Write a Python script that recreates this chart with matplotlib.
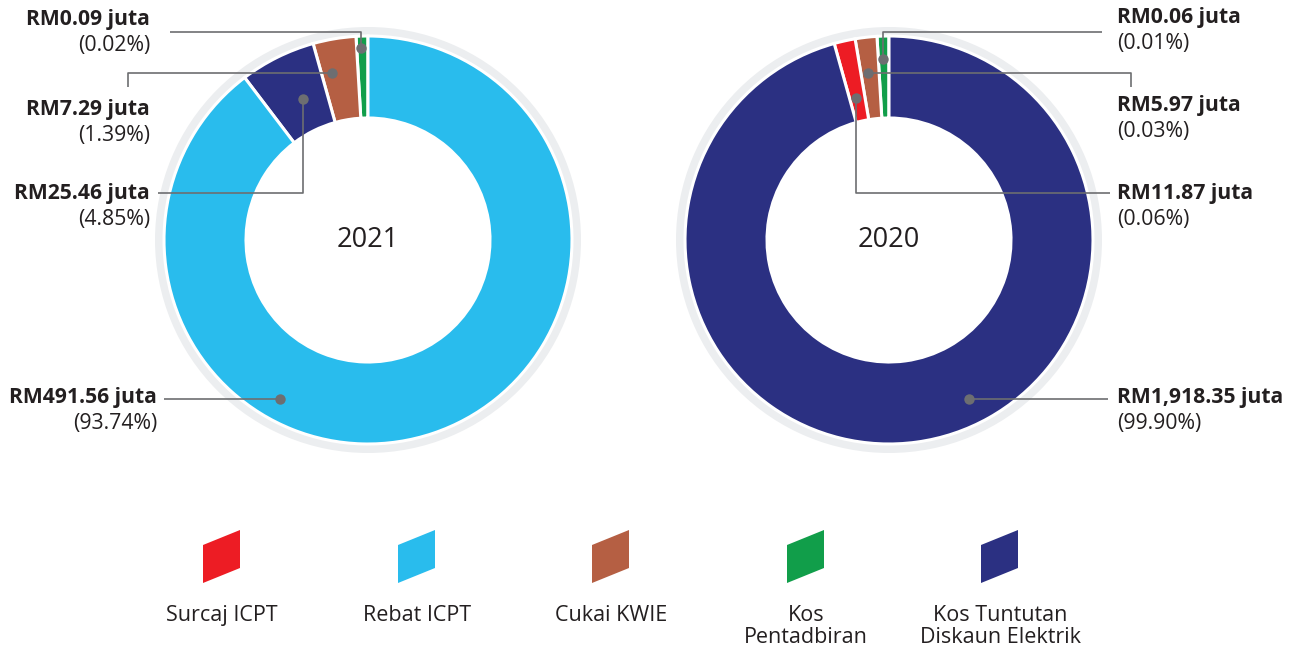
import matplotlib
matplotlib.use("Agg")
import matplotlib.pyplot as plt
from matplotlib.patches import Wedge, Polygon

W, H = 1291, 648

# ---- data ----
categories = ["Surcaj ICPT", "Rebat ICPT", "Cukai KWIE", "Kos\nPentadbiran", "Kos Tuntutan\nDiskaun Elektrik"]
colors = ["#ed1c24", "#29bced", "#b55f43", "#119e4a", "#2b3082"]

# slice shares as drawn in the picture (counter-clockwise from top)
y2021_cats = ["Kos\nPentadbiran", "Cukai KWIE", "Kos Tuntutan\nDiskaun Elektrik", "Rebat ICPT"]
y2021_vals = [0.94, 3.4, 6.0, 89.66]
y2020_cats = ["Kos\nPentadbiran", "Cukai KWIE", "Surcaj ICPT", "Kos Tuntutan\nDiskaun Elektrik"]
y2020_vals = [0.94, 1.72, 1.67, 95.67]

labels_2021_amt = ["RM0.09 juta", "RM7.29 juta", "RM25.46 juta", "RM491.56 juta"]
labels_2021_pct = ["(0.02%)", "(1.39%)", "(4.85%)", "(93.74%)"]
labels_2020_amt = ["RM0.06 juta", "RM5.97 juta", "RM11.87 juta", "RM1,918.35 juta"]
labels_2020_pct = ["(0.01%)", "(0.03%)", "(0.06%)", "(99.90%)"]

cmap = dict(zip(categories, colors))

TXT = "#231f20"
LINE = "#6d6e71"
FONT = ["Open Sans", "DejaVu Sans"]

fig = plt.figure(figsize=(W / 100, H / 100), dpi=100)
ax = fig.add_axes([0, 0, 1, 1])


def Y(y):
    return H - y


R_OUT, R_IN = 204, 122


def donut(cx, cy, cats, vals, year):
    ax.add_patch(Wedge((cx, Y(cy)), 213, 0, 360, width=14, facecolor="#eceef0", edgecolor="none", zorder=1))
    ax.pie(vals, colors=[cmap[c] for c in cats], center=(cx, Y(cy)), radius=R_OUT,
           startangle=90, counterclock=True,
           wedgeprops=dict(width=R_OUT - R_IN, edgecolor="white", linewidth=2.2))
    ax.text(cx, Y(cy), year, ha="center", va="center", fontsize=19.5, color=TXT, family=FONT)


donut(368, 240, y2021_cats, y2021_vals, "2021")
donut(889, 240, y2020_cats, y2020_vals, "2020")


def leader(points):
    xs = [p[0] for p in points]
    ys = [Y(p[1]) for p in points]
    ax.plot(xs, ys, color=LINE, lw=1.2, solid_capstyle="butt", zorder=5)
    ax.plot(xs[0], ys[0], "o", color=LINE, ms=7.5, mec="none", zorder=6)


def label(x, y, amt, pct, ha):
    ax.text(x, Y(y), amt, ha=ha, va="center", fontsize=15.2, fontweight="bold", color=TXT, family=FONT)
    ax.text(x, Y(y + 26), pct, ha=ha, va="center", fontsize=15.3, color=TXT, family=FONT)


# 2021 leaders and labels
leader([(361, 48), (361, 32), (170, 32)])
leader([(332, 73), (128, 73), (128, 87)])
leader([(303, 99), (303, 193), (158, 193)])
leader([(280, 399), (164, 399)])
label(150, 19, labels_2021_amt[0], labels_2021_pct[0], "right")
label(150, 110, labels_2021_amt[1], labels_2021_pct[1], "right")
label(150, 193, labels_2021_amt[2], labels_2021_pct[2], "right")
label(157, 398, labels_2021_amt[3], labels_2021_pct[3], "right")

# 2020 leaders and labels
leader([(883, 59), (883, 32), (1102, 32)])
leader([(868, 73), (1131, 73), (1131, 87)])
leader([(856, 98), (856, 193), (1110, 193)])
leader([(969, 399), (1108, 399)])
label(1117, 17, labels_2020_amt[0], labels_2020_pct[0], "left")
label(1117, 105, labels_2020_amt[1], labels_2020_pct[1], "left")
label(1117, 193, labels_2020_amt[2], labels_2020_pct[2], "left")
label(1117, 398, labels_2020_amt[3], labels_2020_pct[3], "left")

# legend
leg_x = [222, 417, 611, 806, 1000]
for x, cat, col in zip(leg_x, categories, colors):
    pts = [(x - 19, Y(545)), (x + 18, Y(530)), (x + 18, Y(568)), (x - 19, Y(583))]
    ax.add_patch(Polygon(pts, closed=True, facecolor=col, edgecolor="none"))
    ax.text(x, Y(605), cat, ha="center", va="top", fontsize=15.5, color=TXT, family=FONT,
            linespacing=1.05)

ax.set_xlim(0, W)
ax.set_ylim(0, H)
ax.set_aspect("auto")
ax.axis("off")
fig.savefig("out.png", dpi=100, facecolor="white")
